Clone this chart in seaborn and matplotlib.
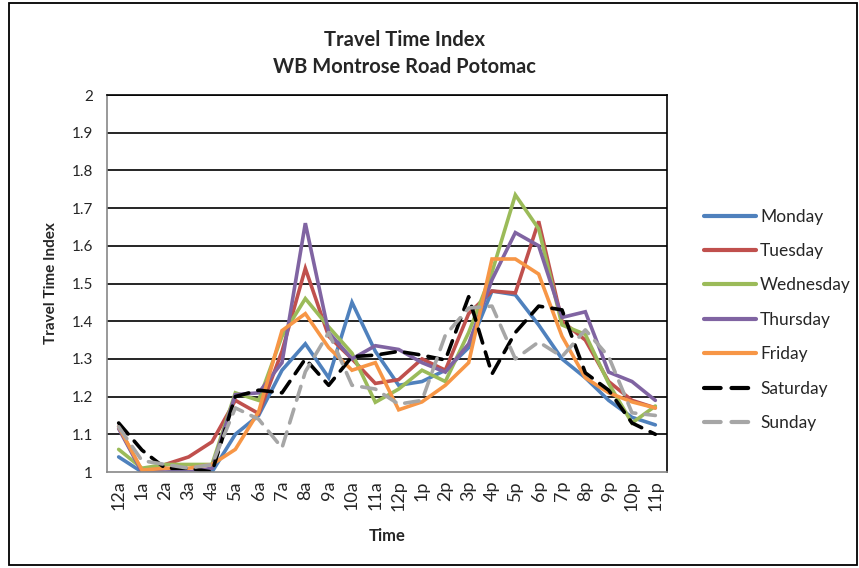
import matplotlib
matplotlib.use("Agg")
import matplotlib.pyplot as plt
import seaborn as sns
import pandas as pd
from matplotlib.patches import Rectangle

hours = ["12a", "1a", "2a", "3a", "4a", "5a", "6a", "7a", "8a", "9a", "10a", "11a",
         "12p", "1p", "2p", "3p", "4p", "5p", "6p", "7p", "8p", "9p", "10p", "11p"]

monday = [1.04, 1.00, 1.01, 1.00, 1.00, 1.10, 1.15, 1.27, 1.34, 1.25, 1.45, 1.32,
          1.23, 1.24, 1.27, 1.33, 1.48, 1.47, 1.39, 1.30, 1.25, 1.19, 1.145, 1.125]
tuesday = [1.12, 1.00, 1.02, 1.04, 1.08, 1.19, 1.155, 1.32, 1.54, 1.36, 1.30, 1.235,
           1.245, 1.30, 1.27, 1.42, 1.48, 1.475, 1.665, 1.40, 1.35, 1.24, 1.19, 1.17]
wednesday = [1.06, 1.01, 1.02, 1.02, 1.02, 1.21, 1.19, 1.36, 1.46, 1.385, 1.315, 1.185,
             1.22, 1.27, 1.24, 1.37, 1.53, 1.735, 1.645, 1.39, 1.365, 1.235, 1.13, 1.175]
thursday = [1.115, 1.00, 1.00, 1.00, 1.01, 1.205, 1.21, 1.29, 1.66, 1.37, 1.30, 1.335,
            1.325, 1.29, 1.265, 1.34, 1.51, 1.635, 1.60, 1.41, 1.425, 1.265, 1.24, 1.19]
friday = [1.12, 1.005, 1.01, 1.01, 1.02, 1.06, 1.16, 1.375, 1.42, 1.33, 1.27, 1.29,
          1.165, 1.186, 1.23, 1.29, 1.565, 1.565, 1.525, 1.36, 1.25, 1.21, 1.186, 1.17]
saturday = [1.13, 1.058, 1.01, 1.01, 1.00, 1.20, 1.217, 1.21, 1.30, 1.23, 1.306, 1.31,
            1.32, 1.31, 1.297, 1.465, 1.26, 1.37, 1.44, 1.43, 1.263, 1.217, 1.13, 1.10]
sunday = [1.12, 1.03, 1.02, 1.01, 1.02, 1.17, 1.14, 1.064, 1.266, 1.37, 1.23, 1.22,
          1.18, 1.19, 1.363, 1.435, 1.44, 1.30, 1.345, 1.306, 1.377, 1.306, 1.157, 1.15]

days = ["Monday", "Tuesday", "Wednesday", "Thursday", "Friday", "Saturday", "Sunday"]
series = [monday, tuesday, wednesday, thursday, friday, saturday, sunday]
colors = ["#4F81BD", "#C0504D", "#9BBB59", "#8064A2", "#F79646", "#000000", "#A6A6A6"]

rows = []
for d, vals in zip(days, series):
    for i, v in enumerate(vals):
        rows.append({"Time": i, "Index": v, "Day": d})
df = pd.DataFrame(rows)

sns.set_theme(style="white")
plt.rcParams["font.family"] = ["Lato", "DejaVu Sans"]

fig = plt.figure(figsize=(8.59, 5.68), dpi=100)
W, H = 859, 568
ax = fig.add_axes([107 / W, 1 - 472 / H, 560 / W, 377 / H])

dash_map = {d: "" for d in days}
dash_map["Saturday"] = (4.0, 2.6)
dash_map["Sunday"] = (4.0, 2.6)

sns.lineplot(data=df, x="Time", y="Index", hue="Day", style="Day",
             hue_order=days, style_order=days, palette=colors, dashes=dash_map,
             linewidth=2.6, sort=False, ax=ax, legend=True)
for ln in ax.get_lines():
    ln.set_dash_capstyle("round")
    ln.set_solid_capstyle("round")
    ln.set_solid_joinstyle("miter")

ax.set_xlim(-0.5, 23.5)
ax.set_ylim(1.0, 2.0)
yt = [1.0, 1.1, 1.2, 1.3, 1.4, 1.5, 1.6, 1.7, 1.8, 1.9, 2.0]
ax.set_yticks(yt)
ax.set_yticklabels(["1", "1.1", "1.2", "1.3", "1.4", "1.5", "1.6", "1.7", "1.8", "1.9", "2"],
                   fontsize=11)
ax.set_xticks(range(24))
ax.set_xticklabels(hours, rotation=90, fontsize=13)
for y in yt[1:]:
    ax.axhline(y, color="black", lw=1.2, zorder=0)
ax.tick_params(axis="y", length=4, color="#888888", pad=6)
ax.tick_params(axis="x", length=0, pad=6)
for s in ["top", "right"]:
    ax.spines[s].set_color("black")
    ax.spines[s].set_linewidth(1.2)
for s in ["left", "bottom"]:
    ax.spines[s].set_color("#888888")
    ax.spines[s].set_linewidth(1.2)

ax.set_xlabel("Time", fontsize=12, fontweight="bold", labelpad=12)
ax.set_ylabel("Travel Time Index", fontsize=11, fontweight="bold", labelpad=10)

leg = ax.legend(loc="upper left", bbox_to_anchor=(688 / W, 1 - 193 / H),
                bbox_transform=fig.transFigure, frameon=False, fontsize=12.5,
                handlelength=3.0, labelspacing=1.06, handletextpad=0.25)
for h in leg.get_lines():
    h.set_linewidth(3.0)

fig.text(404 / W, 1 - 40 / H, "Travel Time Index", ha="center", va="center",
         fontsize=14.5, fontweight="bold")
fig.text(404 / W, 1 - 67 / H, "WB Montrose Road Potomac", ha="center", va="center",
         fontsize=14.5, fontweight="bold")

fig.patches.append(Rectangle((9 / W, 3 / H), 848 / W, 562 / H, transform=fig.transFigure,
                             fill=False, edgecolor="black", lw=1.3))

fig.savefig("out.png", dpi=100)
